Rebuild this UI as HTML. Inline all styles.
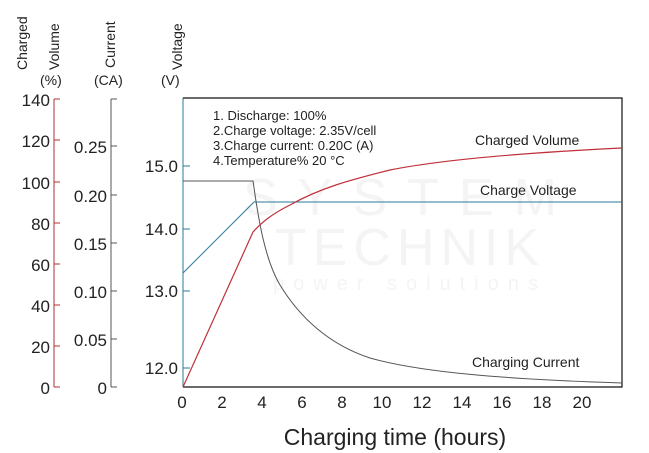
<!DOCTYPE html>
<html><head><meta charset="utf-8"><style>
body{margin:0;background:#fff;}
svg{display:block;font-family:"Liberation Sans",sans-serif;}
</style></head><body>
<svg width="649" height="453" viewBox="0 0 649 453" xmlns="http://www.w3.org/2000/svg">
<rect width="649" height="453" fill="#fff"/>
<!-- watermark -->
<g fill="#f4f4f4" font-size="52" text-anchor="middle">
<text x="410" y="215" letter-spacing="20">SYSTEM</text>
<text x="410" y="265" letter-spacing="6">TECHNIK</text>
<text x="410" y="290" font-size="20" letter-spacing="9">power solutions</text>
</g>
<!-- axis titles -->
<g font-size="14" fill="#222">
<text transform="translate(27,70) rotate(-90)">Charged</text>
<text transform="translate(59,70) rotate(-90)">Volume</text>
<text x="40" y="85">(%)</text>
<text transform="translate(115,68) rotate(-90)">Current</text>
<text x="94" y="85">(CA)</text>
<text transform="translate(182,70) rotate(-90)">Voltage</text>
<text x="161" y="85">(V)</text>
</g>
<!-- charged axis -->
<g stroke="#b03030" stroke-width="1" fill="none">
<line x1="54" y1="99" x2="54" y2="387"/>
<line x1="54" y1="99" x2="60" y2="99"/><line x1="54" y1="140" x2="60" y2="140"/><line x1="54" y1="182" x2="60" y2="182"/><line x1="54" y1="223" x2="60" y2="223"/><line x1="54" y1="264" x2="60" y2="264"/><line x1="54" y1="305" x2="60" y2="305"/><line x1="54" y1="346" x2="60" y2="346"/><line x1="54" y1="387" x2="60" y2="387"/>
</g>
<g font-size="17" fill="#222" text-anchor="end">
<text x="50" y="106">140</text><text x="50" y="147">120</text><text x="50" y="189">100</text><text x="50" y="230">80</text><text x="50" y="271">60</text><text x="50" y="312">40</text><text x="50" y="353">20</text><text x="50" y="394">0</text>
</g>
<!-- current axis -->
<g stroke="#555" stroke-width="1" fill="none">
<line x1="111" y1="99" x2="111" y2="387"/>
<line x1="111" y1="99" x2="117" y2="99"/><line x1="111" y1="146" x2="117" y2="146"/><line x1="111" y1="195" x2="117" y2="195"/><line x1="111" y1="243" x2="117" y2="243"/><line x1="111" y1="291" x2="117" y2="291"/><line x1="111" y1="339" x2="117" y2="339"/><line x1="111" y1="387" x2="117" y2="387"/>
</g>
<g font-size="17" fill="#222" text-anchor="end">
<text x="107" y="153">0.25</text><text x="107" y="202">0.20</text><text x="107" y="250">0.15</text><text x="107" y="298">0.10</text><text x="107" y="346">0.05</text><text x="107" y="394">0</text>
</g>
<!-- voltage axis -->
<g stroke="#2a7a9a" stroke-width="1">
<line x1="183" y1="98" x2="183" y2="387"/>
<line x1="183" y1="166" x2="190" y2="166"/><line x1="183" y1="229" x2="190" y2="229"/><line x1="183" y1="291" x2="190" y2="291"/><line x1="183" y1="368" x2="190" y2="368"/>
</g>
<g font-size="17" fill="#222" text-anchor="end">
<text x="178" y="172">15.0</text><text x="178" y="235">14.0</text><text x="178" y="297">13.0</text><text x="178" y="374">12.0</text>
</g>
<!-- plot frame -->
<path d="M183 98 H622 V387 H183" fill="none" stroke="#111" stroke-width="1.2"/>
<!-- x labels -->
<g font-size="17" fill="#222" text-anchor="middle">
<text x="182" y="408">0</text><text x="222" y="408">2</text><text x="262" y="408">4</text><text x="302" y="408">6</text><text x="342" y="408">8</text><text x="382" y="408">10</text><text x="422" y="408">12</text><text x="462" y="408">14</text><text x="502" y="408">16</text><text x="542" y="408">18</text><text x="582" y="408">20</text>
</g>
<text x="395" y="445" font-size="23" fill="#222" text-anchor="middle">Charging time (hours)</text>
<!-- notes -->
<g font-size="13" fill="#222">
<text x="213" y="120">1. Discharge: 100%</text>
<text x="213" y="135">2.Charge voltage: 2.35V/cell</text>
<text x="213" y="150">3.Charge current: 0.20C (A)</text>
<text x="213" y="165">4.Temperature% 20 °C</text>
</g>
<g font-size="14" fill="#222">
<text x="475" y="145">Charged Volume</text>
<text x="480" y="195">Charge Voltage</text>
<text x="472" y="367">Charging Current</text>
</g>
<!-- curves -->
<path d="M183 273 L254 202 H622" fill="none" stroke="#2a7a9a" stroke-width="1"/>
<path d="M183 181 H253 C256 200 262 255 280 285 C300 318 330 345 370 358 C420 372 500 379 622 383" fill="none" stroke="#555" stroke-width="1"/>
<path d="M183 387 L253 232 C262 222 272 214 290 205 C320 188 350 180 390 170 C440 160 520 153 622 148" fill="none" stroke="#c0303a" stroke-width="1.2"/>
</svg>
</body></html>
